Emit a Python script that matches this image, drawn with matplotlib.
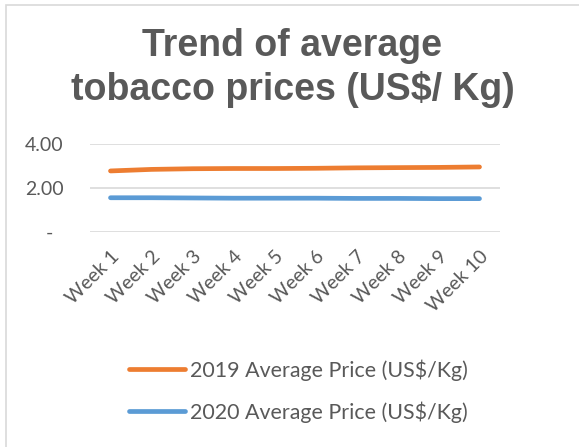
import numpy as np
import matplotlib.pyplot as plt
from matplotlib.patches import Rectangle

# Data
weeks = ['Week 1', 'Week 2', 'Week 3', 'Week 4', 'Week 5',
         'Week 6', 'Week 7', 'Week 8', 'Week 9', 'Week 10']
price_2019 = [2.77, 2.84, 2.87, 2.88, 2.88, 2.89, 2.91, 2.92, 2.93, 2.95]
price_2020 = [1.56, 1.56, 1.55, 1.54, 1.54, 1.54, 1.53, 1.53, 1.52, 1.52]
yticks = [0, 2, 4]
ytick_labels = ['-  ', '2.00', '4.00']

grey = '#595959'
W, H = 579, 447
fig = plt.figure(figsize=(W / 100, H / 100), dpi=100)

# chart border (runs off the right/bottom edge like the screenshot)
fig.patches.append(Rectangle((6 / W, -0.1), 1.2, 1 - 5 / H + 0.1, transform=fig.transFigure,
                             fill=False, edgecolor='#d9d9d9', linewidth=1.2))

ax = fig.add_axes([90 / W, 1 - 232.3 / H, 410 / W, 88.6 / H])
x = np.arange(len(weeks))
ax.plot(x, price_2019, color='#ED7D31', lw=3.4, solid_capstyle='round',
        label='2019 Average Price (US$/Kg)')
ax.plot(x, price_2020, color='#5B9BD5', lw=3.4, solid_capstyle='round',
        label='2020 Average Price (US$/Kg)')

ax.set_xlim(-0.5, len(weeks) - 0.5)
ax.set_ylim(0, 4)
ax.set_yticks(yticks)
ax.set_yticklabels(ytick_labels)
ax.set_xticks(x)
ax.set_xticklabels(weeks, rotation=45, ha='right', rotation_mode='anchor')
ax.tick_params(length=0, labelsize=14, labelcolor=grey)
ax.tick_params(axis='x', pad=11)
ax.tick_params(axis='y', pad=19)
for lbl in ax.get_xticklabels() + ax.get_yticklabels():
    lbl.set_family('Lato')
ax.grid(axis='y', color='#d9d9d9', lw=1.2)
ax.set_axisbelow(True)
for s in ax.spines.values():
    s.set_visible(False)

fig.text(0.505, 1 - 46 / H, 'Trend of average', ha='center', va='center',
         fontsize=27, fontweight='bold', color=grey, family='Liberation Sans')
fig.text(0.505, 1 - 90 / H, 'tobacco prices (US$/ Kg)', ha='center', va='center',
         fontsize=27, fontweight='bold', color=grey, family='Liberation Sans')

leg = fig.legend(loc='center', bbox_to_anchor=(0.516, 1 - 391 / H), ncol=1, frameon=False,
                 prop={'family': 'Lato', 'size': 15.4}, labelcolor=grey,
                 handlelength=2.6, handletextpad=0.25, labelspacing=0.95)

fig.savefig('out.png', dpi=100)
